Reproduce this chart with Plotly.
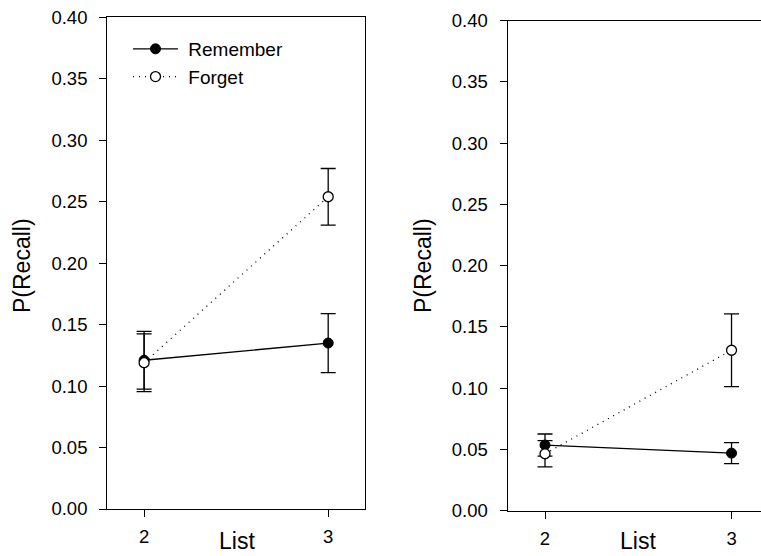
import plotly.graph_objects as go

lists = [2, 3]
tick_vals_y = [0.0, 0.05, 0.10, 0.15, 0.20, 0.25, 0.30, 0.35, 0.40]

left_remember = [0.121, 0.135]
left_remember_err = [0.0235, 0.024]
left_forget = [0.119, 0.254]
left_forget_err = [0.0235, 0.023]

right_remember = [0.0536, 0.047]
right_remember_err = [0.009, 0.0086]
right_forget = [0.0465, 0.131]
right_forget_err = [0.0107, 0.0297]

FONT = "Liberation Sans, Arial, sans-serif"
W, H = 761, 556

fig = go.Figure()

def add_pair(rem, rem_err, fog, fog_err, xa, ya, show):
    fig.add_trace(go.Scatter(
        x=lists, y=rem, name="\u00a0Remember", mode="lines+markers",
        xaxis=xa, yaxis=ya, showlegend=show,
        line=dict(color="black", width=1.3),
        marker=dict(symbol="circle", size=10, color="black", line=dict(color="black", width=1)),
        error_y=dict(type="data", array=rem_err, visible=True, color="black", thickness=1.3, width=7.5),
    ))
    fig.add_trace(go.Scatter(
        x=lists, y=fog, name="\u00a0Forget", mode="lines+markers",
        xaxis=xa, yaxis=ya, showlegend=show,
        line=dict(color="black", width=1.3, dash="1px,5px"),
        marker=dict(symbol="circle", size=10, color="white", line=dict(color="black", width=1.3)),
        error_y=dict(type="data", array=fog_err, visible=True, color="black", thickness=1.3, width=7.5),
    ))

add_pair(left_remember, left_remember_err, left_forget, left_forget_err, "x", "y", True)
add_pair(right_remember, right_remember_err, right_forget, right_forget_err, "x2", "y2", False)

def px_x(p):
    return p / W

def px_y(p):
    return 1 - p / H

axis_common = dict(
    showgrid=False, zeroline=False, showline=True, linecolor="black", linewidth=1.3,
    ticks="outside", ticklen=7, tickwidth=1.3, tickcolor="black", automargin=False,
    tickfont=dict(family=FONT, size=18.5, color="black"),
)

fig.update_layout(
    width=W, height=H,
    margin=dict(l=0, r=0, t=0, b=0, pad=0, autoexpand=False),
    paper_bgcolor="white", plot_bgcolor="white",
    font=dict(family=FONT, color="black"),
    xaxis=dict(domain=[px_x(107.3), px_x(365)], range=[1.8, 3.2], tickvals=lists,
               mirror=True, anchor="y", ticklabelstandoff=4, **axis_common),
    yaxis=dict(domain=[px_y(509), px_y(17.3)], range=[0, 0.4], tickvals=tick_vals_y,
               tickformat=".2f", mirror=True, anchor="x", ticklabelstandoff=8, **axis_common),
    xaxis2=dict(domain=[px_x(507.7), 1.0], range=[1.8, 3.158], tickvals=lists,
                mirror=True, anchor="y2", ticklabelstandoff=4, **axis_common),
    yaxis2=dict(domain=[px_y(510.7), px_y(20.7)], range=[0, 0.4], tickvals=tick_vals_y,
                tickformat=".2f", mirror=False, anchor="x2", ticklabelstandoff=8, **axis_common),
    legend=dict(x=px_x(128), y=px_y(30), xanchor="left", yanchor="top",
                bgcolor="rgba(0,0,0,0)", borderwidth=0, itemwidth=45,
                font=dict(family=FONT, size=19, color="black")),
    showlegend=True,
)

title_font = dict(family=FONT, size=23, color="black")
fig.add_annotation(text="List", x=px_x(236.5), y=px_y(541), xref="paper", yref="paper",
                   showarrow=False, xanchor="center", yanchor="middle", font=title_font)
fig.add_annotation(text="List", x=px_x(638), y=px_y(541), xref="paper", yref="paper",
                   showarrow=False, xanchor="center", yanchor="middle", font=title_font)
fig.add_annotation(text="P(Recall)", x=px_x(22), y=px_y(266), xref="paper", yref="paper",
                   showarrow=False, xanchor="center", yanchor="middle", textangle=-90, font=title_font)
fig.add_annotation(text="P(Recall)", x=px_x(423), y=px_y(266), xref="paper", yref="paper",
                   showarrow=False, xanchor="center", yanchor="middle", textangle=-90, font=title_font)

fig.write_html("out.html")
